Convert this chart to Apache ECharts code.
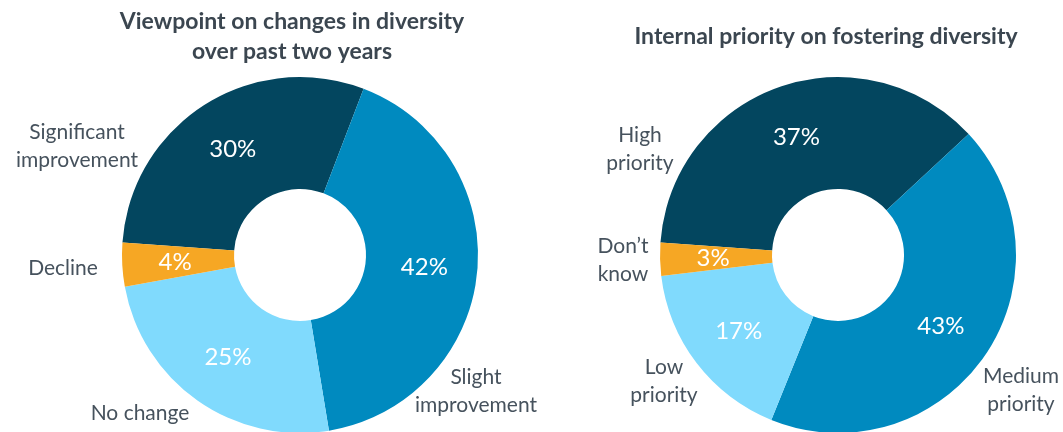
<!DOCTYPE html>
<html>
<head>
<meta charset="utf-8">
<script src="https://cdn.jsdelivr.net/npm/echarts@6/dist/echarts.min.js"></script>
<style>
  html, body { margin: 0; padding: 0; background: #fff; }
  #chart { width: 1063px; height: 432px; }
</style>
</head>
<body>
<div id="chart"></div>
<script>
// data
const leftTitle = 'Viewpoint on changes in diversity\nover past two years'
const leftNames = ['Significant\nimprovement', 'Slight\nimprovement', 'No change', 'Decline']
const leftValues = [30, 42, 25, 4]

const rightTitle = 'Internal priority on fostering diversity'
const rightNames = ['High\npriority', 'Medium\npriority', 'Low\npriority', 'Don\u2019t\nknow']
const rightValues = [37, 43, 17, 3]

// styling / layout
const colors = ['#03465f', '#008abf', '#80dafd', '#f6a724']
const textColor = '#46525d'
const font = 'Lato, "Open Sans", sans-serif'

const leftNamePos = [[77, 146], [476, 391], [140, 413], [63, 268]]
const rightNamePos = [[640, 149], [1021, 390], [664, 381], [623, 260]]

const chart = echarts.init(document.getElementById('chart'))

const valueSeries = (names, values, center) => ({
  type: 'pie',
  center,
  radius: [66, 178],
  startAngle: 176,
  clockwise: true,
  silent: true,
  itemStyle: { borderWidth: 0 },
  label: {
    show: true,
    position: 'inside',
    formatter: '{c}%',
    color: '#fff',
    fontSize: 24,
    fontFamily: font
  },
  labelLine: { show: false },
  data: names.map((n, i) => ({ name: n, value: values[i], itemStyle: { color: colors[i] } }))
})

// transparent copy of the ring, only used to carry the category labels
const nameSeries = (names, values, center, pos) => ({
  type: 'pie',
  center,
  radius: [66, 178],
  startAngle: 176,
  silent: true,
  itemStyle: { color: 'transparent' },
  label: {
    show: true,
    position: 'inside',
    formatter: '{b}',
    color: textColor,
    fontSize: 21,
    lineHeight: 28,
    align: 'center',
    fontFamily: font
  },
  labelLine: { show: false },
  labelLayout: (p) => ({
    x: pos[p.dataIndex][0],
    y: pos[p.dataIndex][1],
    align: 'center',
    verticalAlign: 'middle'
  }),
  data: names.map((n, i) => ({ name: n, value: values[i] }))
})

const option = {
  animation: false,
  graphic: [
    {
      type: 'text', x: 292, y: 37,
      style: {
        text: leftTitle, align: 'center', verticalAlign: 'middle',
        fontSize: 23, fontWeight: 'bold', lineHeight: 30,
        fill: '#3b4650', fontFamily: font
      }
    },
    {
      type: 'text', x: 826, y: 37,
      style: {
        text: rightTitle, align: 'center', verticalAlign: 'middle',
        fontSize: 23, fontWeight: 'bold',
        fill: '#3b4650', fontFamily: font
      }
    }
  ],
  series: [
    valueSeries(leftNames, leftValues, [300, 255]),
    nameSeries(leftNames, leftValues, [300, 255], leftNamePos),
    valueSeries(rightNames, rightValues, [838, 255]),
    nameSeries(rightNames, rightValues, [838, 255], rightNamePos)
  ]
}

chart.setOption(option)
</script>
</body>
</html>
